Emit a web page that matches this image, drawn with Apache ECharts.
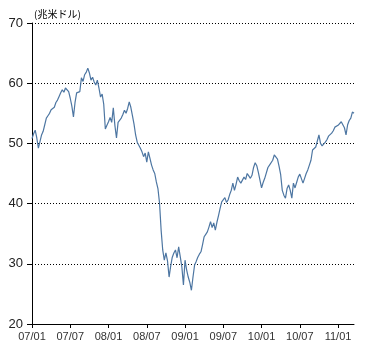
<!DOCTYPE html>
<html>
<head>
<meta charset="utf-8">
<script src="https://cdn.jsdelivr.net/npm/echarts@6/dist/echarts.min.js"></script>
<style>
  html, body { margin: 0; padding: 0; background: #fff; }
  #container { width: 366px; height: 352px; }
</style>
</head>
<body>
<div id="container"></div>
<script>
// weekly-ish points, 4 per month, Jan 2007 .. mid Mar 2011
var years = ['07', '08', '09', '10', '11'];
var months = ['01', '02', '03', '04', '05', '06', '07', '08', '09', '10', '11', '12'];
var tickMonths = ['01', '07'];
var unitLabel = '(兆米ドル)';

var values2007 = [
    50.8, 51.6, 52.2, 50.9, 49.2, 50.3, 51.4, 52.0, 53.1, 54.2, 54.6, 55.0,
    55.6, 55.3, 56.0, 56.8, 57.2, 57.8, 58.4, 58.9, 58.5, 59.2, 59.4, 58.6,
    57.5, 56.2, 54.4, 56.8, 58.4, 58.1, 58.6, 60.9, 60.3, 61.4, 61.8, 62.5,
    61.7, 60.5, 61.0, 60.2, 59.7, 60.5, 59.2, 57.7, 58.2, 56.5, 52.4, 53.0
];
var values2008 = [
    53.6, 54.3, 53.5, 55.9, 53.0, 50.9, 53.5, 53.2, 54.2, 54.8, 55.5, 55.0,
    55.8, 56.9, 56.0, 54.6, 53.2, 51.4, 50.2, 49.7, 49.2, 48.6, 47.8, 48.4,
    46.9, 48.6, 47.5, 46.4, 45.6, 45.0, 43.6, 42.5, 40.1, 35.6, 32.3, 30.6,
    31.8, 30.5, 27.8, 29.6, 31.1, 31.8, 32.3, 31.0, 32.8, 31.2, 29.5, 26.5
];
var values2009 = [
    30.6, 29.0, 27.8, 26.9, 25.6, 27.8, 29.8, 30.4, 31.1, 31.6, 32.0, 33.2,
    34.5, 34.9, 35.3, 36.1, 37.0, 36.0, 36.8, 35.6, 36.9, 38.0, 39.2, 40.3,
    40.6, 41.0, 40.2, 40.6, 41.5, 42.2, 43.4, 42.2, 43.2, 44.4, 43.8, 43.4,
    43.1, 44.4, 44.0, 45.0, 44.6, 44.2, 44.7, 46.0, 46.8, 46.3, 45.2, 43.9
];
var values2010 = [
    42.6, 43.5, 44.2, 44.4, 46.0, 46.4, 46.6, 47.2, 48.1, 48.1, 47.4, 46.2,
    44.8, 42.2, 41.4, 40.9, 42.5, 43.1, 42.2, 40.9, 43.4, 42.6, 43.5, 44.4,
    44.9, 45.2, 43.4, 44.2, 45.0, 45.6, 46.4, 47.2, 48.9, 49.0, 49.4, 49.7,
    51.4, 50.0, 49.6, 49.5, 50.2, 50.6, 51.2, 51.4, 51.7, 52.1, 52.7, 52.4
];
var values2011 = [
    53.0, 53.2, 53.6, 53.1, 52.6, 51.4, 53.1, 53.8, 54.2, 55.2, 55.0
];

var values = values2007.concat(values2008, values2009, values2010, values2011);

// category names: YY/MM/w
var categories = [];
years.forEach(function (y) {
    months.forEach(function (m) {
        for (var w = 0; w < 4; w++) {
            if (categories.length < values.length) {
                categories.push(y + '/' + m + '/' + w);
            }
        }
    });
});

function isTick(index) {
    var c = categories[index];
    return c.slice(6) === '0' && tickMonths.indexOf(c.slice(3, 5)) >= 0;
}

var dom = document.getElementById('container');
var myChart = echarts.init(dom, null, { renderer: 'canvas' });

myChart.setOption({
    animation: false,
    backgroundColor: '#fff',
    grid: { left: 32, right: 12, top: 23, bottom: 28 },
    xAxis: {
        type: 'category',
        data: categories,
        boundaryGap: false,
        axisLine: { lineStyle: { color: '#000', width: 1 } },
        axisTick: { show: true, interval: isTick, length: 4, lineStyle: { color: '#000' } },
        axisLabel: {
            interval: isTick,
            formatter: function (v) { return v.slice(0, 5); },
            color: '#333',
            fontSize: 11,
            fontFamily: 'Liberation Sans, Arial, sans-serif',
            margin: 7
        },
        splitLine: { show: false }
    },
    yAxis: {
        type: 'value',
        min: 20,
        max: 70,
        interval: 10,
        name: unitLabel,
        nameLocation: 'end',
        nameGap: 4,
        nameTextStyle: {
            align: 'left',
            color: '#000',
            fontSize: 10,
            fontFamily: 'Noto Sans CJK JP',
            padding: [0, 0, 0, 2]
        },
        axisLine: { show: true, lineStyle: { color: '#000', width: 1 } },
        axisTick: { show: true, length: 5, lineStyle: { color: '#000' } },
        axisLabel: {
            color: '#222',
            fontSize: 13,
            fontFamily: 'Liberation Sans, Arial, sans-serif',
            margin: 9
        },
        splitLine: { show: true, lineStyle: { color: '#000', width: 1, type: [1, 2] } }
    },
    series: [{
        type: 'line',
        data: values,
        symbol: 'none',
        lineStyle: { color: '#4d76a2', width: 1.2 }
    }]
});

window.addEventListener('resize', function () {
    myChart.resize();
});
</script>
</body>
</html>
